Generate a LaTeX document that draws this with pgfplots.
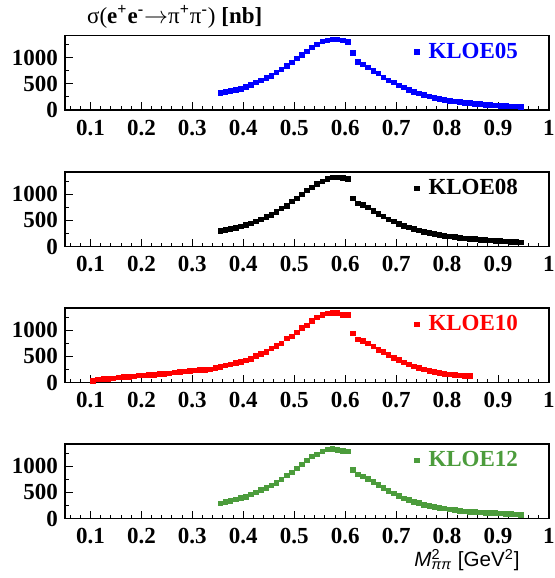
\documentclass[border=0pt]{standalone}
\usepackage{fontspec}
\setmainfont{Liberation Serif}
\setsansfont{Liberation Sans}
\usepackage{pgfplots}
\pgfplotsset{compat=1.18}
\usepackage{pgfplotstable}
\definecolor{kblue}{RGB}{0,0,255}
\definecolor{kred}{RGB}{255,0,0}
\definecolor{kgreen}{HTML}{4C9C3C}

\pgfplotstableread{
x y
0.355 327
0.365 346
0.375 365
0.385 391
0.395 410
0.405 449
0.415 487
0.425 532
0.435 570
0.445 615
0.455 660
0.465 718
0.475 782
0.485 846
0.495 910
0.505 987
0.515 1058
0.525 1128
0.535 1199
0.545 1263
0.555 1314
0.565 1333
0.575 1353
0.585 1353
0.595 1333
0.605 1308
0.615 1100
0.625 920
0.635 872
0.645 814
0.655 756
0.665 699
0.675 628
0.685 570
0.695 526
0.705 474
0.715 436
0.725 391
0.735 352
0.745 320
0.755 288
0.765 263
0.775 237
0.785 212
0.795 199
0.805 180
0.815 167
0.825 154
0.835 141
0.845 135
0.855 122
0.865 115
0.875 103
0.885 96
0.895 90
0.905 83
0.915 77
0.925 71
0.935 71
0.945 64
}\kloefive

\pgfplotstableread{
x y
0.355 304
0.365 324
0.375 343
0.385 362
0.395 388
0.405 413
0.415 446
0.425 484
0.435 522
0.445 567
0.455 612
0.465 663
0.475 728
0.485 785
0.495 862
0.505 926
0.515 997
0.525 1074
0.535 1138
0.545 1202
0.555 1253
0.565 1298
0.575 1324
0.585 1324
0.595 1317
0.605 1292
0.615 926
0.625 824
0.635 798
0.645 747
0.655 683
0.665 631
0.675 574
0.685 522
0.695 478
0.705 433
0.715 401
0.725 369
0.735 343
0.745 311
0.755 285
0.765 266
0.775 240
0.785 228
0.795 208
0.805 196
0.815 183
0.825 170
0.835 157
0.845 151
0.855 144
0.865 131
0.875 125
0.885 119
0.895 112
0.905 106
0.915 99
0.925 93
0.935 87
0.945 80
}\kloeeight

\pgfplotstableread{
x y
0.105 29
0.115 61
0.125 67
0.135 74
0.145 80
0.155 99
0.165 106
0.175 106
0.185 119
0.195 138
0.205 138
0.215 144
0.225 151
0.235 163
0.245 170
0.255 176
0.265 196
0.275 202
0.285 215
0.295 221
0.305 234
0.315 240
0.325 247
0.335 253
0.345 279
0.355 304
0.365 330
0.375 349
0.385 375
0.395 401
0.405 426
0.415 458
0.425 510
0.435 548
0.445 593
0.455 651
0.465 708
0.475 747
0.485 843
0.495 888
0.505 958
0.515 1050
0.525 1093
0.535 1183
0.545 1253
0.555 1298
0.565 1324
0.575 1337
0.585 1337
0.595 1298
0.605 1298
0.615 945
0.625 824
0.635 798
0.645 753
0.655 696
0.665 631
0.675 587
0.685 535
0.695 478
0.705 433
0.715 388
0.725 349
0.735 311
0.745 279
0.755 253
0.765 228
0.775 208
0.785 189
0.795 170
0.805 157
0.815 151
0.825 138
0.835 131
0.845 125
}\kloeten

\pgfplotstableread{
x y
0.355 292
0.365 317
0.375 343
0.385 369
0.395 394
0.405 420
0.415 465
0.425 503
0.435 548
0.445 593
0.455 638
0.465 683
0.475 747
0.485 830
0.495 888
0.505 958
0.515 1035
0.525 1112
0.535 1195
0.545 1234
0.555 1285
0.565 1330
0.575 1337
0.585 1317
0.595 1292
0.605 1285
0.615 933
0.625 843
0.635 811
0.645 760
0.655 702
0.665 644
0.675 587
0.685 529
0.695 484
0.705 439
0.715 388
0.725 356
0.735 324
0.745 298
0.755 266
0.765 247
0.775 228
0.785 208
0.795 196
0.805 176
0.815 163
0.825 151
0.835 138
0.845 131
0.855 125
0.865 119
0.875 112
0.885 106
0.895 106
0.905 99
0.915 93
0.925 87
0.935 80
0.945 74
}\kloetwelve

\newcommand{\lblfont}{\fontsize{11.5}{13}\selectfont\bfseries}

\pgfplotsset{
  kloe/.style={
    scale only axis, width=242pt, height=37.25pt,
    xmin=0.05, xmax=1.0, ymin=0, ymax=1430,
    xtick={0.1,0.2,0.3,0.4,0.5,0.6,0.7,0.8,0.9,1},
    xticklabels={0.1,0.2,0.3,0.4,0.5,0.6,0.7,0.8,0.9,1},
    minor xtick={0.06,0.08,0.12,0.14,0.16,0.18,0.22,0.24,0.26,0.28,0.32,0.34,0.36,0.38,0.42,0.44,0.46,0.48,0.52,0.54,0.56,0.58,0.62,0.64,0.66,0.68,0.72,0.74,0.76,0.78,0.82,0.84,0.86,0.88,0.92,0.94,0.96,0.98},
    ytick={0,500,1000}, yticklabels={0,500,1000},
    minor ytick={250,750,1250},
    xtick pos=bottom, ytick pos=left, tick align=inside,
    major tick length=4pt, minor tick length=2pt,
    tick style={black, line width=0.5pt},
    axis line style={black, line width=0.6pt},
    tick label style={font=\lblfont},
    xticklabel style={yshift=-1.5pt},
    legend style={at={(0.945,0.78)}, anchor=east, draw=none, fill=none,
      font=\lblfont, inner sep=0pt},
    legend image code/.code={\draw[#1] plot coordinates {(0cm,0cm)}; \path (3.5pt,0pt);},
    clip=false,
  },
  kmark/.style={only marks, mark=square*, mark size=1.15pt, #1, mark options={draw=none, fill=#1}},
}

\begin{document}
\begin{tikzpicture}
\begin{axis}[kloe, at={(0pt,0pt)},
  legend style={text=kblue},
  title={σ(\textbf{e\textsuperscript{+}e\textsuperscript{-}}$\rightarrow$π\textsuperscript{\textbf{+}}π\textsuperscript{\textbf{-}}) \textbf{[nb]}},
  title style={at={(0.045,1.25)}, anchor=west, yshift=-6pt, font=\fontsize{11.5}{13}\selectfont, inner sep=0pt}]
  \addplot[kmark=kblue] table {\kloefive};
  \addlegendentry{KLOE05}
\end{axis}
\begin{axis}[kloe, at={(0pt,-68.25pt)}, legend style={text=black}]
  \addplot[kmark=black] table {\kloeeight};
  \addlegendentry{KLOE08}
\end{axis}
\begin{axis}[kloe, at={(0pt,-136.25pt)}, legend style={text=kred}]
  \addplot[kmark=kred] table {\kloeten};
  \addlegendentry{KLOE10}
\end{axis}
\begin{axis}[kloe, at={(0pt,-204.25pt)}, legend style={text=kgreen},
  xlabel={\textit{M}\rlap{\textsuperscript{2}}\textsubscript{\textit{ππ}} [GeV\textsuperscript{2}]},
  xlabel style={at={(axis description cs:0.94,-0.56)}, anchor=east, font=\sffamily\fontsize{10.3}{12}\selectfont, inner sep=0pt}]
  \addplot[kmark=kgreen] table {\kloetwelve};
  \addlegendentry{KLOE12}
\end{axis}
\pgfresetboundingbox
\path (-32.5pt,-234pt) rectangle (244.5pt,55pt);
\end{tikzpicture}
\end{document}
